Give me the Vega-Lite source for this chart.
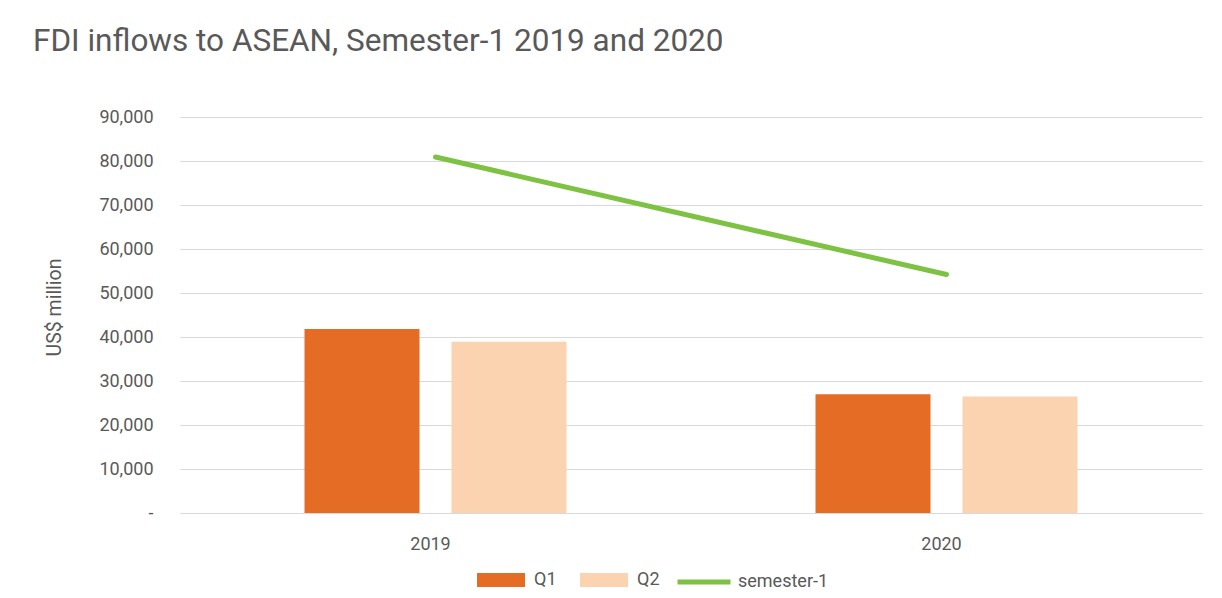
{
  "$schema": "https://vega.github.io/schema/vega-lite/v6.json",
  "autosize": {"type": "none"},
  "padding": {"left": 180, "top": 117, "right": 20, "bottom": 85},
  "width": 1022,
  "height": 396,
  "background": "white",
  "title": {
    "text": "FDI inflows to ASEAN, Semester-1 2019 and 2020",
    "anchor": "start",
    "frame": "group",
    "dx": -147,
    "offset": 51,
    "font": "Roboto",
    "fontSize": 31.5,
    "fontWeight": "normal",
    "color": "#595959"
  },
  "config": {
    "font": "Roboto",
    "view": {"stroke": null},
    "legend": {"padding": 0}
  },
  "datasets": {
    "bars": [
      {"year": "2019", "series": "Q1", "value": 41800},
      {"year": "2019", "series": "Q2", "value": 38900},
      {"year": "2020", "series": "Q1", "value": 27000},
      {"year": "2020", "series": "Q2", "value": 26500}
    ],
    "line": [
      {"year": "2019", "series": "semester-1", "value": 80900},
      {"year": "2020", "series": "semester-1", "value": 54200}
    ]
  },
  "encoding": {
    "x": {
      "field": "year",
      "type": "nominal",
      "scale": {"paddingInner": 0, "paddingOuter": 0},
      "axis": {
        "title": null,
        "labelAngle": 0,
        "domain": false,
        "ticks": false,
        "labelPadding": 22,
        "labelOffset": -5,
        "labelFontSize": 18,
        "labelColor": "#595959"
      }
    },
    "y": {
      "field": "value",
      "type": "quantitative",
      "scale": {"domain": [0, 90000], "nice": false},
      "axis": {
        "title": "US$ million",
        "values": [0, 10000, 20000, 30000, 40000, 50000, 60000, 70000, 80000, 90000],
        "labelExpr": "datum.value == 0 ? '-\u00a0\u00a0\u00a0' : format(datum.value, ',')",
        "domain": false,
        "ticks": false,
        "labelPadding": 27,
        "labelFontSize": 18,
        "labelColor": "#595959",
        "titleFontSize": 19.5,
        "titleFontWeight": "normal",
        "titleColor": "#595959",
        "titlePadding": 34,
        "titleY": 190,
        "gridColor": "#d9d9d9",
        "gridWidth": 1.2
      }
    }
  },
  "layer": [
    {
      "data": {"name": "bars"},
      "mark": {"type": "bar"},
      "encoding": {
        "xOffset": {
          "field": "series",
          "type": "nominal",
          "scale": {"paddingInner": 0.2177, "paddingOuter": 0.847}
        },
        "fill": {
          "field": "series",
          "type": "nominal",
          "scale": {"domain": ["Q1", "Q2"], "range": ["#E46C25", "#FBD3B0"]},
          "legend": {
            "title": null,
            "orient": "none",
            "direction": "horizontal",
            "legendX": 297,
            "legendY": 439,
            "symbolType": "M-1,-0.29H1V0.29H-1Z",
            "symbolSize": 2304,
            "symbolStrokeWidth": 0,
            "symbolOpacity": 1,
            "labelFontSize": 18,
            "labelColor": "#595959",
            "labelOffset": 9,
            "columnPadding": 23
          }
        }
      }
    },
    {
      "data": {"name": "line"},
      "mark": {"type": "line", "strokeWidth": 5, "strokeCap": "round"},
      "encoding": {
        "stroke": {
          "field": "series",
          "type": "nominal",
          "scale": {"domain": ["semester-1"], "range": ["#7DC242"]},
          "legend": {
            "title": null,
            "orient": "none",
            "direction": "horizontal",
            "legendX": 495,
            "legendY": 436,
            "symbolType": "stroke",
            "symbolSize": 2809,
            "symbolStrokeWidth": 5,
            "labelFontSize": 18,
            "labelColor": "#595959",
            "labelOffset": 5
          }
        }
      }
    }
  ]
}
